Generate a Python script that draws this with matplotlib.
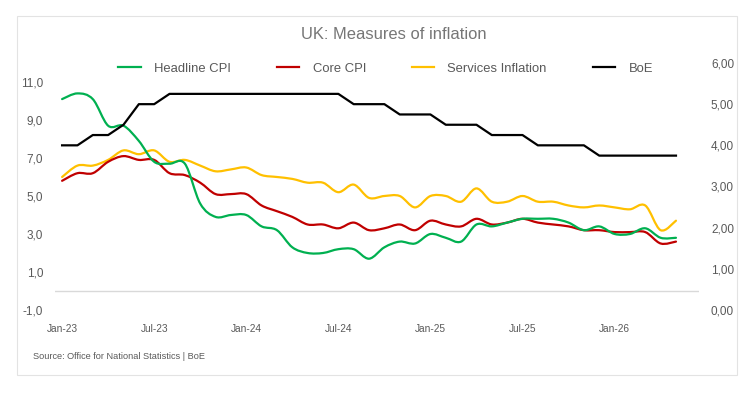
import matplotlib
matplotlib.use("Agg")
import matplotlib.pyplot as plt
from matplotlib.path import Path
from matplotlib.patches import PathPatch, Rectangle
from matplotlib.lines import Line2D

# monthly data, Jan-23 .. May-26
months = ["Jan-23", "Feb-23", "Mar-23", "Apr-23", "May-23", "Jun-23", "Jul-23", "Aug-23", "Sep-23", "Oct-23",
          "Nov-23", "Dec-23", "Jan-24", "Feb-24", "Mar-24", "Apr-24", "May-24", "Jun-24", "Jul-24", "Aug-24",
          "Sep-24", "Oct-24", "Nov-24", "Dec-24", "Jan-25", "Feb-25", "Mar-25", "Apr-25", "May-25", "Jun-25",
          "Jul-25", "Aug-25", "Sep-25", "Oct-25", "Nov-25", "Dec-25", "Jan-26", "Feb-26", "Mar-26", "Apr-26",
          "May-26"]
headline = [10.1, 10.4, 10.1, 8.7, 8.7, 7.9, 6.8, 6.7, 6.7, 4.6,
            3.9, 4.0, 4.0, 3.4, 3.2, 2.3, 2.0, 2.0, 2.2, 2.2,
            1.7, 2.3, 2.6, 2.5, 3.0, 2.8, 2.6, 3.5, 3.4, 3.6,
            3.8, 3.8, 3.8, 3.6, 3.2, 3.4, 3.0, 3.0, 3.3, 2.8,
            2.8]
core = [5.8, 6.2, 6.2, 6.8, 7.1, 6.9, 6.9, 6.2, 6.1, 5.7,
        5.1, 5.1, 5.1, 4.5, 4.2, 3.9, 3.5, 3.5, 3.3, 3.6,
        3.2, 3.3, 3.5, 3.2, 3.7, 3.5, 3.4, 3.8, 3.5, 3.6,
        3.8, 3.6, 3.5, 3.4, 3.2, 3.2, 3.1, 3.1, 3.1, 2.5,
        2.6]
services = [6.0, 6.6, 6.6, 6.9, 7.4, 7.2, 7.4, 6.8, 6.9, 6.6,
            6.3, 6.4, 6.5, 6.1, 6.0, 5.9, 5.7, 5.7, 5.2, 5.6,
            4.9, 5.0, 5.0, 4.4, 5.0, 5.0, 4.7, 5.4, 4.7, 4.7,
            5.0, 4.7, 4.7, 4.5, 4.4, 4.5, 4.4, 4.3, 4.5, 3.2,
            3.7]
boe = [4.0, 4.0, 4.25, 4.25, 4.5, 5.0, 5.0, 5.25, 5.25, 5.25,
       5.25, 5.25, 5.25, 5.25, 5.25, 5.25, 5.25, 5.25, 5.25, 5.0,
       5.0, 5.0, 4.75, 4.75, 4.75, 4.5, 4.5, 4.5, 4.25, 4.25,
       4.25, 4.0, 4.0, 4.0, 4.0, 3.75, 3.75, 3.75, 3.75, 3.75,
       3.75]

GREEN, RED, YELLOW = "#00b050", "#c00000", "#ffc000"
GREY_TXT = "#595959"
plt.rcParams["font.family"] = ["Liberation Sans", "DejaVu Sans"]


def smooth(ax, xs, ys, color):
    # excel-like smoothed line: cubic bezier through each point
    n = len(xs)
    verts = [(xs[0], ys[0])]
    codes = [Path.MOVETO]
    for i in range(n - 1):
        a = max(i - 1, 0)
        b = min(i + 2, n - 1)
        c1 = (xs[i] + (xs[i + 1] - xs[a]) / 6, ys[i] + (ys[i + 1] - ys[a]) / 6)
        c2 = (xs[i + 1] - (xs[b] - xs[i]) / 6, ys[i + 1] - (ys[b] - ys[i]) / 6)
        verts += [c1, c2, (xs[i + 1], ys[i + 1])]
        codes += [Path.CURVE4] * 3
    ax.add_patch(PathPatch(Path(verts, codes), fill=False, edgecolor=color,
                           lw=1.6, capstyle="round", joinstyle="round"))


x = list(range(len(months)))

fig = plt.figure(figsize=(7.56, 3.96), dpi=100)
ax = fig.add_axes([0.0728, 0.2172, 0.8518, 0.6237])
ax2 = ax.twinx()

smooth(ax, x, services, YELLOW)
smooth(ax, x, core, RED)
smooth(ax, x, headline, GREEN)
ax2.plot(x, boe, color="black", lw=1.6)

ax.axhline(0, color="#d9d9d9", lw=1)
ax.set_xlim(-0.46, 41.5)
ax.set_ylim(-1, 12)
ax2.set_ylim(0, 6)
ax.set_yticks([-1, 1, 3, 5, 7, 9, 11])
ax.set_yticklabels([f"{v:.1f}".replace(".", ",") for v in [-1, 1, 3, 5, 7, 9, 11]])
ax2.set_yticks(range(7))
ax2.set_yticklabels([f"{v:.2f}".replace(".", ",") for v in range(7)])
ax.set_xticks(x[::6])
ax.set_xticklabels(months[::6])

for a in (ax, ax2):
    for s in a.spines.values():
        s.set_visible(False)
    a.tick_params(length=0, colors=GREY_TXT)
ax.tick_params(axis="y", labelsize=8.5, pad=8.6)
ax2.tick_params(axis="y", labelsize=8.5, pad=8.6)
ax.tick_params(axis="x", labelsize=7.3, pad=10)

handles = [Line2D([], [], color=c, lw=1.6) for c in (GREEN, RED, YELLOW, "black")]
fig.legend(handles, ["Headline CPI", "Core CPI", "Services Inflation", "BoE"],
           loc="center", bbox_to_anchor=(0.51, 0.826), ncol=4, frameon=False,
           fontsize=9.4, handlelength=1.75, handletextpad=1.0, columnspacing=3.5,
           labelcolor=GREY_TXT)

fig.text(0.521, 0.912, "UK: Measures of inflation", ha="center", va="center",
         fontsize=11.9, color="#767676")
fig.text(0.044, 0.101, "Source: Office for National Statistics | BoE", ha="left",
         va="center", fontsize=6.6, color=GREY_TXT)

fig.patches.append(Rectangle((17 / 756, 1 - 375 / 396), 720 / 756, 359 / 396,
                             transform=fig.transFigure, fill=False,
                             edgecolor="#e3e3e3", lw=0.8))

fig.savefig("out.png", dpi=100)
